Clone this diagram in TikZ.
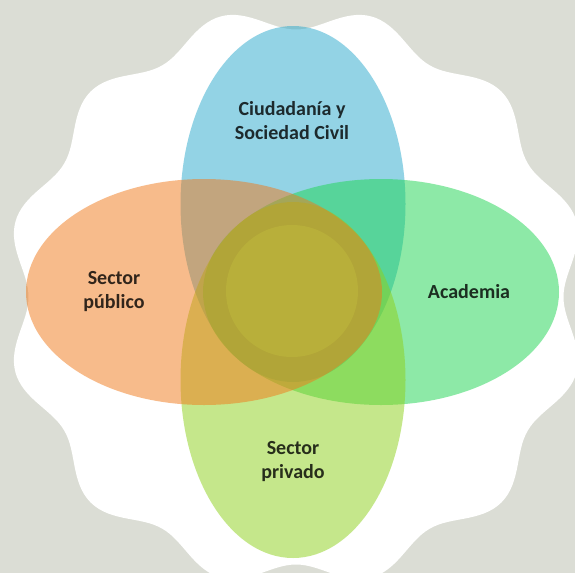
\documentclass[tikz,border=0pt]{standalone}
\usepackage{fontspec}
\setmainfont{Carlito}
\usetikzlibrary{shapes.geometric}

\definecolor{bgGrey}{RGB}{219,221,213}
\definecolor{civilBlue}{RGB}{41,169,205}
\definecolor{acadGreen}{RGB}{29,213,81}
\definecolor{privLime}{RGB}{141,209,25}
\definecolor{pubOrange}{RGB}{241,121,25}
\definecolor{coreOlive}{RGB}{192,186,60}

\begin{document}
\begin{tikzpicture}[x=1pt,y=-1pt,
  petal node/.style={ellipse,inner sep=0pt,fill opacity=0.5},
  text node/.style={font=\bfseries\fontsize{20}{24}\selectfont,align=center,text=black,text opacity=0.8}]

  \fill[bgGrey] (0,0) rectangle (575,573);
  \useasboundingbox (0,0) rectangle (575,573);

  % wavy white backdrop
  \fill[white] plot[domain=0:360,samples=361,variable=\t]
    ({296+(279+11.5*cos(12*(\t-15)))*cos(\t)},{297+(279+11.5*cos(12*(\t-15)))*sin(\t)}) -- cycle;

  \node[petal node,fill=civilBlue,minimum width=225pt,minimum height=356pt] (civil) at (293,204) {};
  \node[petal node,fill=acadGreen,minimum width=356pt,minimum height=226pt] (acad) at (381,292) {};
  \node[petal node,fill=privLime,minimum width=225pt,minimum height=356pt] (priv) at (293,380) {};
  \node[petal node,fill=pubOrange,minimum width=356pt,minimum height=226pt] (pub) at (204,292) {};
  \node[circle,inner sep=0pt,fill=coreOlive,fill opacity=0.5,minimum size=132pt] (core) at (292,291) {};

  \node[text node] (civilTxt) at (292,121) {Ciudadanía y\\Sociedad Civil};
  \node[text node] (pubTxt) at (114,292) {Sector\\público};
  \node[text node] (acadTxt) at (469,292) {Academia};
  \node[text node] (privTxt) at (293,462) {Sector\\privado};
\end{tikzpicture}
\end{document}
